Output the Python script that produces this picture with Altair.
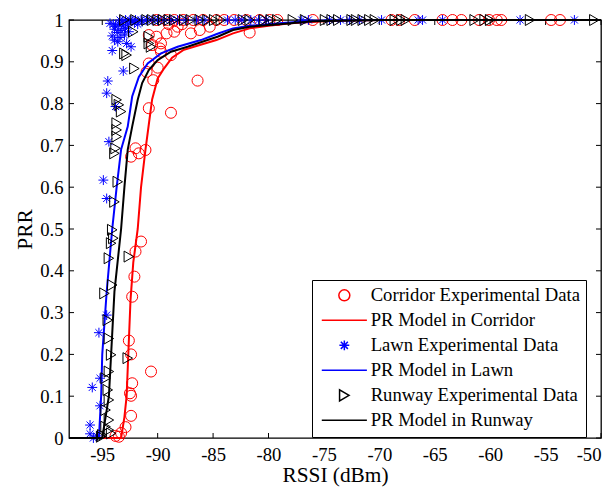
import altair as alt
import pandas as pd

FONT = "Liberation Serif"

# ---------------- data ----------------
# Corridor experimental data (red circles)
corr_rssi = [-93.8, -93.5, -93.3, -92.9, -92.4, -92.4, -92.5, -92.3, -90.6, -92.4,
             -92.6, -92.3, -92.1, -92.0, -91.5, -92.4, -92.0, -91.7, -91.1, -90.8,
             -88.8, -86.4, -90.4, -91.0, -90.0, -90.8, -89.8, -88.8, -90.1, -89.2,
             -88.5, -87.0, -88.2, -86.2, -85.3, -90.5, -89.7, -90.8, -81.7, -89.7,
             -89.0, -87.8,
             -90.1, -89.2, -88.5, -87.7, -86.8, -85.9, -84.7, -84.0, -83.1, -82.0,
             -80.8, -79.9, -79.2, -76.0, -68.9, -68.2, -66.8, -64.3, -63.4, -62.6,
             -61.0, -60.1, -59.4, -59.0, -54.5, -53.7]
corr_prr = [0.005, 0.003, 0.012, 0.026, 0.053, 0.101, 0.107, 0.131, 0.159, 0.200,
            0.233, 0.338, 0.386, 0.446, 0.470, 0.673, 0.693, 0.681, 0.689, 0.789,
            0.778, 0.855, 0.856, 0.876, 0.886, 0.896, 0.932, 0.916, 0.960, 0.968,
            0.972, 0.968, 0.984, 0.976, 0.984, 0.940, 0.944, 0.964, 0.970, 0.924,
            0.990, 0.990,
            1.0, 1.0, 1.0, 1.0, 1.0, 1.0, 1.0, 1.0, 1.0, 1.0,
            1.0, 1.0, 1.0, 1.0, 1.0, 1.0, 1.0, 1.0, 1.0, 1.0,
            1.0, 1.0, 1.0, 1.0, 1.0, 1.0]

# Lawn experimental data (blue asterisks)
lawn_rssi = [-96.1, -96.1, -95.8, -95.5, -95.2, -95.9, -95.2, -95.3, -94.6, -94.9,
             -94.6, -94.4, -93.8, -94.6, -94.5, -93.1, -94.1, -92.4, -93.6, -93.9,
             -92.8, -93.0, -92.9, -93.8, -93.5, -93.3, -93.2, -92.7, -92.3, -91.8,
             -94.0, -93.6, -94.3, -93.9, -93.1, -92.6, -92.1, -91.4, -94.1, -93.4,
             -93.4, -92.9, -92.5, -92.0, -91.5, -91.0, -90.5, -90.0, -89.4, -88.8,
             -88.2, -87.5, -86.5, -85.8, -83.7, -83.0, -82.4, -81.6, -80.9, -80.2,
             -77.0, -76.4, -74.5, -73.5, -72.7, -71.8, -69.8, -66.5, -66.1, -64.3,
             -57.3, -52.4]
lawn_prr = [0.031, 0.010, 0.000, 0.005, 0.077, 0.121, 0.143, 0.252, 0.294, 0.617,
            0.573, 0.709, 0.793, 0.825, 0.854, 0.878, 0.927, 0.936, 0.948, 0.952,
            0.944, 0.964, 0.980, 0.985, 0.990, 0.975, 0.995, 0.990, 0.997, 0.990,
            0.990, 0.970, 0.992, 0.978, 0.986, 0.972, 0.994, 0.996, 0.962, 0.958,
            1.0, 1.0, 1.0, 1.0, 1.0, 1.0, 1.0, 1.0, 1.0, 1.0,
            1.0, 1.0, 1.0, 1.0, 1.0, 1.0, 1.0, 1.0, 1.0, 1.0,
            1.0, 1.0, 1.0, 1.0, 1.0, 1.0, 1.0, 1.0, 1.0, 1.0,
            1.0, 1.0]

# Runway experimental data (black right triangles)
run_rssi = [-95.1, -95.0, -94.7, -94.4, -94.2, -94.4, -94.7, -94.4, -94.5, -94.7,
            -94.4, -94.2, -92.7, -94.4, -94.5, -94.8, -94.1, -94.4, -92.6, -94.2,
            -94.0, -94.1, -93.9, -93.6, -93.9, -93.8, -93.7, -93.7, -93.7, -93.3,
            -93.5, -93.7, -93.0, -92.1, -92.2, -90.8, -90.6, -90.8, -92.8,
            -93.0, -92.0, -91.0, -90.5, -90.0, -89.5, -89.0, -88.5, -87.6, -87.0,
            -86.2, -85.5, -84.9, -84.3, -82.3, -81.7, -80.4, -79.8, -79.2, -77.8,
            -76.7, -74.9, -74.3, -73.7, -72.5, -72.1, -71.5, -70.9, -70.4, -68.6,
            -68.0, -67.6, -61.4, -60.5, -60.0, -56.4, -50.6]
run_prr = [0.003, 0.007, 0.027, 0.043, 0.011, 0.019, 0.067, 0.091, 0.115, 0.143,
           0.159, 0.199, 0.191, 0.238, 0.282, 0.346, 0.366, 0.430, 0.434, 0.466,
           0.478, 0.498, 0.565, 0.613, 0.681, 0.693, 0.721, 0.737, 0.753, 0.781,
           0.797, 0.809, 0.920, 0.884, 0.972, 0.944, 0.936, 0.960, 0.916,
           1.0, 1.0, 1.0, 1.0, 1.0, 1.0, 1.0, 1.0, 1.0, 1.0,
           1.0, 1.0, 1.0, 1.0, 1.0, 1.0, 1.0, 1.0, 1.0, 1.0,
           1.0, 1.0, 1.0, 1.0, 1.0, 1.0, 1.0, 1.0, 1.0, 1.0,
           1.0, 1.0, 1.0, 1.0, 1.0, 1.0, 1.0]

# PR model curves
corr_model_rssi = [-98.0, -93.3, -93.0, -92.8, -92.65, -92.45, -92.2, -91.8, -91.5, -91.1,
                   -90.8, -90.5, -90.0, -89.4, -88.7, -87.7, -86.2, -84.7, -83.2, -81.7,
                   -80.0, -78.0, -75.0, -70.0, -50.0]
corr_model_prr = [0.0, 0.0, 0.05, 0.10, 0.20, 0.33, 0.42, 0.50, 0.60, 0.69,
                  0.75, 0.81, 0.86, 0.885, 0.91, 0.928, 0.94, 0.952, 0.968, 0.98,
                  0.986, 0.992, 0.997, 1.0, 1.0]

lawn_model_rssi = [-98.0, -95.3, -95.1, -95.0, -94.6, -94.1, -93.7, -93.3, -92.7, -92.3,
                   -91.7, -90.9, -89.7, -88.2, -86.1, -84.6, -83.2, -81.7, -79.0, -76.0,
                   -70.0, -50.0]
lawn_model_prr = [0.0, 0.0, 0.10, 0.20, 0.35, 0.50, 0.60, 0.69, 0.745, 0.817,
                  0.864, 0.896, 0.92, 0.936, 0.952, 0.967, 0.98, 0.986, 0.992, 0.998,
                  1.0, 1.0]

run_model_rssi = [-98.0, -95.0, -94.7, -94.4, -94.2, -93.9, -93.3, -93.0, -92.7, -92.3,
                  -91.8, -91.4, -90.8, -90.0, -88.8, -87.3, -85.5, -84.6, -83.2, -81.7,
                  -79.0, -76.0, -70.0, -50.0]
run_model_prr = [0.0, 0.0, 0.05, 0.10, 0.20, 0.35, 0.50, 0.60, 0.69, 0.745,
                 0.809, 0.849, 0.88, 0.904, 0.924, 0.936, 0.952, 0.96, 0.976, 0.984,
                 0.99, 0.997, 1.0, 1.0]

SERIES = ["Corridor Experimental Data", "PR Model in Corridor",
          "Lawn Experimental Data", "PR Model in Lawn",
          "Runway Experimental Data", "PR Model in Runway"]
COLORS = ["#ff0000", "#ff0000", "#0000ff", "#0000ff", "#000000", "#000000"]

x_ticks = [-95, -90, -85, -80, -75, -70, -65, -60, -55, -50]
y_ticks = [0, 0.1, 0.2, 0.3, 0.4, 0.5, 0.6, 0.7, 0.8, 0.9, 1]

# ---------------- styling ----------------
W, H = 532, 418
LINE_SYM = "M-4.1,0H4.1"
STAR_SYM = "M0,-0.9V0.9M-0.9,0H0.9M-0.64,-0.64L0.64,0.64M-0.64,0.64L0.64,-0.64"
SHAPES = ["circle", LINE_SYM, STAR_SYM, LINE_SYM, "triangle-right", LINE_SYM]

xscale = alt.Scale(domain=[-98, -50], nice=False, zero=False)
yscale = alt.Scale(domain=[0, 1], nice=False, zero=False)
cscale = alt.Scale(domain=SERIES, range=COLORS)
sscale = alt.Scale(domain=SERIES, range=SHAPES)

xaxis = alt.Axis(values=x_ticks, labelExpr="'' + datum.value", ticks=False, tickSize=0,
                 domain=False, grid=False, labelPadding=7, labelFont=FONT,
                 labelFontSize=18.67, labelColor="black", title="RSSI (dBm)",
                 titleFont=FONT, titleFontSize=21.33, titleFontWeight="normal",
                 titleColor="black", titleBaseline="alphabetic", titleY=43)
yaxis = alt.Axis(values=y_ticks, labelExpr="'' + datum.value", ticks=False, tickSize=0,
                 domain=False, grid=False, labelPadding=6, labelFont=FONT,
                 labelFontSize=18.67, labelColor="black", title="PRR",
                 titleFont=FONT, titleFontSize=21.33, titleFontWeight="normal",
                 titleColor="black", titleAngle=270, titleBaseline="alphabetic",
                 titleX=-38, titleY=H / 2, titleAlign="center")

legend = alt.Legend(title=None, orient="none", legendX=243, legendY=260,
                    fillColor="white", strokeColor="black", padding=6,
                    symbolOffset=17, labelOffset=17, rowPadding=5,
                    labelFont=FONT, labelFontSize=18.67, labelColor="black",
                    labelLimit=500, symbolSize=121, symbolStrokeWidth=1.5)

X = alt.X("rssi:Q", scale=xscale, axis=xaxis)
Y = alt.Y("prr:Q", scale=yscale, axis=yaxis)
C = alt.Color("series:N", scale=cscale, legend=legend)
S = alt.Shape("series:N", scale=sscale, legend=legend)


def frame(rssi, prr, name):
    return pd.DataFrame({"rssi": rssi, "prr": prr, "series": name})


def points(rssi, prr, name):
    return alt.Chart(frame(rssi, prr, name)).mark_point(
        filled=False, size=121, strokeWidth=1, opacity=1, clip=False
    ).encode(x=X, y=Y, color=C, shape=S)


def model(rssi, prr, name):
    return alt.Chart(frame(rssi, prr, name)).mark_line(
        strokeWidth=2, clip=False
    ).encode(x=X, y=Y, color=C)


tx = pd.DataFrame({"rssi": x_ticks})
ty = pd.DataFrame({"prr": y_ticks})
rule_kw = dict(color="black", strokeWidth=1)
ticks_bottom = alt.Chart(tx).mark_rule(**rule_kw).encode(x=X, y=alt.value(H), y2=alt.value(H - 5))
ticks_top = alt.Chart(tx).mark_rule(**rule_kw).encode(x=X, y=alt.value(0), y2=alt.value(5))
ticks_left = alt.Chart(ty).mark_rule(**rule_kw).encode(y=Y, x=alt.value(0), x2=alt.value(5))
ticks_right = alt.Chart(ty).mark_rule(**rule_kw).encode(y=Y, x=alt.value(W), x2=alt.value(W - 5))

chart = alt.layer(
    ticks_bottom, ticks_top, ticks_left, ticks_right,
    points(corr_rssi, corr_prr, SERIES[0]),
    model(corr_model_rssi, corr_model_prr, SERIES[1]),
    points(lawn_rssi, lawn_prr, SERIES[2]),
    model(lawn_model_rssi, lawn_model_prr, SERIES[3]),
    points(run_rssi, run_prr, SERIES[4]),
    model(run_model_rssi, run_model_prr, SERIES[5]),
).properties(
    width=W, height=H,
    autosize=alt.AutoSizeParams(type="none"),
    padding={"left": 69, "top": 20, "right": 6, "bottom": 50},
    background="white",
).configure_view(
    stroke="black", strokeWidth=1.3
)

chart.save("out.html", embed_options={"renderer": "svg", "actions": False})
